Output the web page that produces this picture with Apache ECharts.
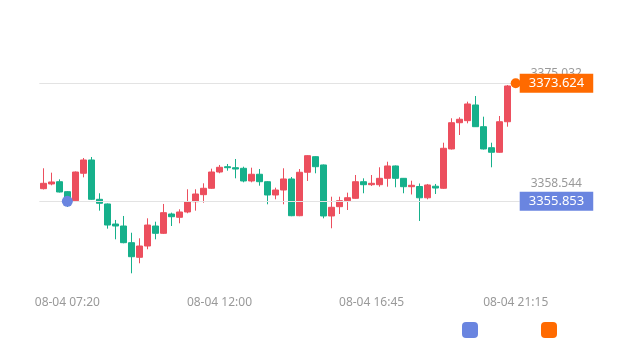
<!DOCTYPE html>
<html>
<head>
<meta charset="utf-8">
<script src="https://cdn.jsdelivr.net/npm/echarts@6/dist/echarts.min.js"></script>
<style>
html,body{margin:0;padding:0;background:#fff;}
#chart{width:620px;height:352px;}
</style>
</head>
<body>
<div id="chart"></div>
<script>
// category slots (one per candle)
var categories = [];
for (var c = 0; c < 60; c++) categories.push(String(c));

// tick labels shown on the x axis and their category index
var tickLabels = ['08-04 07:20', '08-04 12:00', '08-04 16:45', '08-04 21:15'];
var tickIndex = [3, 22, 41, 59];

// candles: [open, close, low, high]
var candles = [
  [3357.76, 3358.57, 3357.64, 3360.83],
  [3358.47, 3358.77, 3358.27, 3360.17],
  [3358.81, 3357.26, 3357.19, 3359.17],
  [3357.31, 3356.06, 3355.00, 3357.41],
  [3355.95, 3360.27, 3355.83, 3360.35],
  [3360.08, 3362.08, 3359.47, 3362.38],
  [3362.08, 3356.16, 3356.09, 3362.53],
  [3356.16, 3355.56, 3354.45, 3357.07],
  [3355.46, 3352.29, 3351.74, 3355.53],
  [3352.44, 3352.14, 3350.14, 3353.05],
  [3352.14, 3349.63, 3349.54, 3353.65],
  [3349.63, 3347.52, 3345.02, 3351.13],
  [3347.43, 3349.13, 3346.53, 3350.29],
  [3349.13, 3352.29, 3348.64, 3353.30],
  [3352.14, 3351.04, 3350.14, 3352.79],
  [3351.04, 3354.15, 3350.94, 3355.46],
  [3353.95, 3353.54, 3352.14, 3354.15],
  [3353.45, 3354.25, 3352.55, 3354.66],
  [3354.25, 3355.80, 3354.06, 3357.67],
  [3355.80, 3356.96, 3354.45, 3357.67],
  [3356.86, 3357.82, 3355.65, 3358.57],
  [3357.82, 3360.27, 3357.74, 3360.77],
  [3360.27, 3360.98, 3360.08, 3361.33],
  [3361.07, 3360.92, 3360.47, 3361.48],
  [3360.92, 3360.72, 3359.32, 3362.23],
  [3360.83, 3358.92, 3358.72, 3361.07],
  [3358.92, 3359.93, 3358.72, 3360.92],
  [3359.93, 3358.81, 3358.21, 3360.72],
  [3358.81, 3356.81, 3355.41, 3358.89],
  [3356.81, 3357.56, 3356.16, 3357.91],
  [3357.56, 3359.22, 3355.41, 3360.83],
  [3359.22, 3353.69, 3353.62, 3359.52],
  [3353.69, 3360.23, 3353.62, 3360.72],
  [3360.23, 3362.73, 3358.92, 3362.80],
  [3362.58, 3361.07, 3360.08, 3362.65],
  [3361.33, 3353.65, 3353.30, 3361.40],
  [3353.65, 3354.96, 3351.80, 3356.55],
  [3355.05, 3355.95, 3353.95, 3356.55],
  [3355.95, 3356.40, 3354.55, 3357.16],
  [3356.31, 3358.81, 3356.24, 3359.82],
  [3358.81, 3358.36, 3357.07, 3359.32],
  [3358.36, 3358.57, 3358.17, 3359.82],
  [3358.36, 3359.32, 3358.06, 3360.98],
  [3359.32, 3361.18, 3358.06, 3361.82],
  [3361.18, 3359.32, 3357.97, 3361.25],
  [3359.32, 3358.06, 3357.07, 3359.37],
  [3358.06, 3358.27, 3356.89, 3358.96],
  [3358.09, 3356.39, 3352.90, 3358.54],
  [3356.39, 3358.32, 3356.16, 3358.47],
  [3358.13, 3357.86, 3356.96, 3358.47],
  [3357.82, 3363.84, 3357.74, 3364.68],
  [3363.74, 3367.69, 3363.66, 3368.36],
  [3367.69, 3368.21, 3365.84, 3368.51],
  [3368.00, 3370.51, 3367.60, 3370.86],
  [3370.36, 3367.09, 3367.05, 3371.71],
  [3367.09, 3363.74, 3363.66, 3368.60],
  [3363.93, 3363.24, 3360.98, 3364.68],
  [3363.24, 3367.84, 3363.16, 3368.70],
  [3367.84, 3373.22, 3367.09, 3373.37],
  [3373.22, 3373.624, 3373.20, 3373.80]
];

// marked prices
var markNames = ['开仓价', '最新价'];
var markIndex = [3, 59];
var markValues = [3355.853, 3373.624];

// y axis ticks
var yMin = 3342.056;
var yMax = 3380.142;
var yInterval = 16.488;

var BLUE = '#6a85e0', ORANGE = '#ff6a00';
var UP = '#ec4f5e', DOWN = '#16b08b';

var chart = echarts.init(document.getElementById('chart'), null, {renderer: 'canvas'});

function markSeries(i, color, size) {
  return {
    name: markNames[i],
    type: 'scatter',
    symbol: 'circle',
    symbolSize: size,
    itemStyle: {color: color, opacity: 1},
    z: 5,
    data: [[markIndex[i], markValues[i]]],
    markLine: {
      silent: true,
      symbol: 'none',
      precision: 3,
      lineStyle: {color: '#e3e3e3', type: 'solid', width: 1},
      label: {
        position: 'end',
        distance: 0,
        formatter: function () { return markValues[i].toFixed(3); },
        color: '#fff',
        fontSize: 13,
        fontFamily: 'Noto Sans',
        backgroundColor: color,
        padding: [2, 9, 2, 9],
        lineHeight: 15
      },
      data: [{yAxis: markValues[i]}]
    }
  };
}

chart.setOption({
  animation: false,
  backgroundColor: '#fff',
  textStyle: {fontFamily: 'Noto Sans'},
  grid: {left: 39.3, right: 100.3, top: 40, bottom: 59},
  legend: [
    {left: 457, top: 317, itemWidth: 16, itemHeight: 16, icon: 'roundRect',
     itemStyle: {opacity: 1},
     data: [markNames[0]], formatter: function () { return ''; }, selectedMode: false},
    {left: 536, top: 317, itemWidth: 16, itemHeight: 16, icon: 'roundRect',
     itemStyle: {opacity: 1},
     data: [markNames[1]], formatter: function () { return ''; }, selectedMode: false}
  ],
  xAxis: {
    type: 'category',
    data: categories,
    boundaryGap: true,
    axisLine: {show: false},
    axisTick: {show: false},
    splitLine: {show: false},
    axisLabel: {
      color: '#999',
      fontSize: 12,
      margin: 4,
      interval: function (idx) { return tickIndex.indexOf(idx) >= 0; },
      formatter: function (v, idx) {
        var k = tickIndex.indexOf(idx);
        return k >= 0 ? tickLabels[k] : '';
      }
    }
  },
  yAxis: {
    type: 'value',
    position: 'right',
    min: yMin,
    max: yMax,
    interval: yInterval,
    axisLine: {show: false},
    axisTick: {show: false},
    splitLine: {show: false},
    axisLabel: {
      color: '#999',
      fontSize: 12,
      margin: 11,
      showMinLabel: false,
      showMaxLabel: false,
      formatter: function (v) { return v.toFixed(3); }
    }
  },
  series: [
    {
      type: 'candlestick',
      data: candles,
      barWidth: 7,
      itemStyle: {color: UP, color0: DOWN, borderColor: UP, borderColor0: DOWN, borderWidth: 1}
    },
    markSeries(0, BLUE, 11),
    markSeries(1, ORANGE, 10)
  ]
});
</script>
</body>
</html>
